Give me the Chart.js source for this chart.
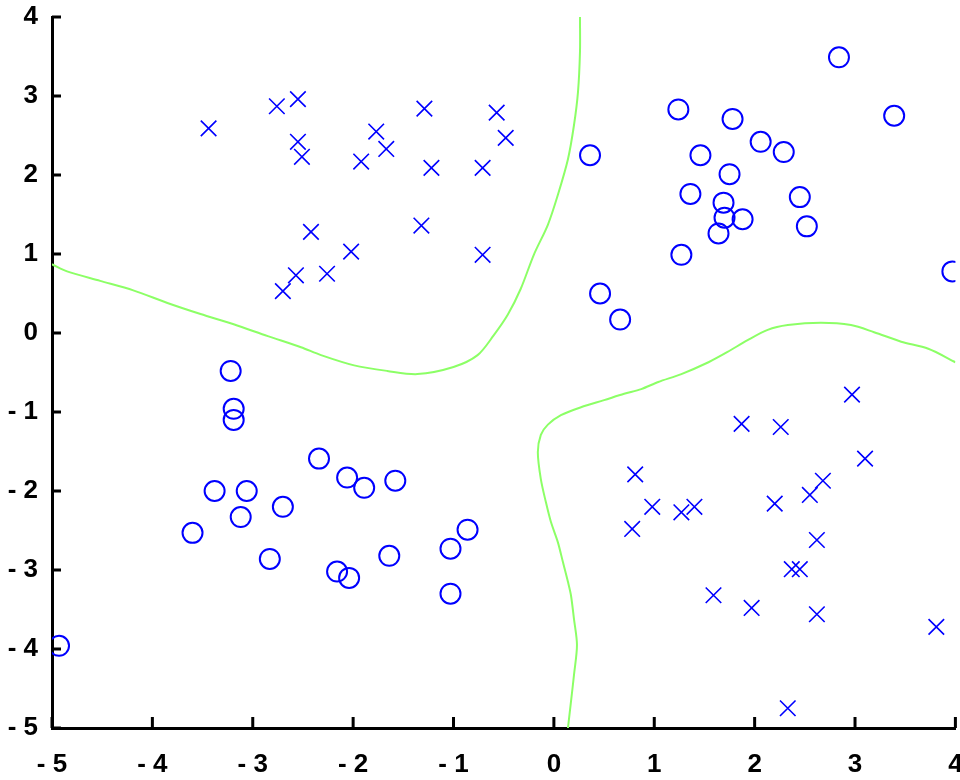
<!DOCTYPE html>
<html>
<head>
<meta charset="utf-8">
<script src="https://cdn.jsdelivr.net/npm/chart.js@4.4.0/dist/chart.umd.min.js"></script>
<style>
  html, body { margin: 0; padding: 0; background: #fff; overflow: hidden; }
  canvas { display: block; }
</style>
</head>
<body>
<!-- a little wider than the window: Chart.js keeps room for the marker size on the right -->
<canvas id="chart" width="968" height="780"></canvas>
<script>
// class "o" samples
const circleX = [0.36, 0.46, 0.66, 2.84, 1.24, 1.78, 3.39, 2.06, 2.29, 1.46,
                 1.75, 1.36, 2.45, 1.69, 1.88, 1.70, 1.64, 2.52, 1.27, 3.97,
                 -3.22, -3.19, -3.19, -2.34, -3.38, -3.06, -3.12, -2.70, -3.60, -2.83,
                 -4.93, -2.06, -1.89, -1.58, -0.86, -1.03, -1.64, -2.16, -2.04, -1.03];
const circleY = [2.25, 0.50, 0.17, 3.49, 2.83, 2.71, 2.75, 2.42, 2.29, 2.25,
                 2.01, 1.76, 1.72, 1.65, 1.44, 1.46, 1.26, 1.35, 0.99, 0.78,
                 -0.48, -0.96, -1.10, -1.59, -2.00, -2.00, -2.33, -2.20, -2.53, -2.86,
                 -3.96, -1.83, -1.96, -1.87, -2.49, -2.73, -2.82, -3.02, -3.10, -3.30];

// class "x" samples
const crossX = [-3.44, -2.76, -2.55, -2.55, -2.51, -2.42, -2.57, -2.70, -2.26, -1.29,
                -0.57, -0.48, -1.77, -1.67, -1.92, -1.22, -0.71, -1.32, -2.02, -0.71,
                2.97, 1.87, 2.26, 3.10, 2.68, 2.55, 0.81, 0.78, 0.98, 1.27,
                1.40, 2.20, 2.62, 2.37, 2.45, 1.59, 1.97, 2.62, 3.81, 2.33];
const crossY = [2.59, 2.87, 2.96, 2.42, 2.23, 1.28, 0.73, 0.53, 0.75, 2.84,
                2.79, 2.47, 2.55, 2.33, 2.17, 2.09, 2.09, 1.36, 1.03, 0.99,
                -0.78, -1.15, -1.19, -1.59, -1.87, -2.05, -1.79, -2.48, -2.20, -2.27,
                -2.20, -2.16, -2.62, -2.99, -2.99, -3.32, -3.48, -3.56, -3.72, -4.75];

// decision boundary, upper-left branch
const boundAX = [-5.0, -4.85, -4.52, -4.19, -3.85, -3.52, -3.19, -2.85, -2.52, -2.32,
                 -1.99, -1.66, -1.36, -1.00, -0.76, -0.60, -0.46, -0.33, -0.20, -0.06,
                 0.04, 0.14, 0.20, 0.24, 0.26, 0.26];
const boundAY = [0.87, 0.78, 0.66, 0.54, 0.38, 0.24, 0.11, -0.04, -0.18, -0.28,
                 -0.41, -0.48, -0.52, -0.43, -0.28, -0.03, 0.23, 0.56, 0.99, 1.37,
                 1.75, 2.20, 2.63, 3.05, 3.56, 4.0];

// decision boundary, lower-right branch
const boundBX = [0.14, 0.17, 0.20, 0.23, 0.20, 0.17, 0.14, 0.09, 0.04, -0.03,
                 -0.08, -0.13, -0.16, -0.13, -0.06, 0.07, 0.27, 0.50, 0.70, 0.87,
                 1.04, 1.27, 1.54, 1.73, 1.93, 2.13, 2.33, 2.66, 2.96, 3.19,
                 3.46, 3.73, 4.0];
const boundBY = [-5.0, -4.67, -4.33, -3.95, -3.62, -3.32, -3.15, -2.90, -2.65, -2.39,
                 -2.14, -1.85, -1.51, -1.29, -1.16, -1.04, -0.94, -0.85, -0.77, -0.71,
                 -0.62, -0.52, -0.37, -0.24, -0.09, 0.04, 0.10, 0.13, 0.10, 0.01,
                 -0.11, -0.20, -0.37];

const axisTicks = [-5, -4, -3, -2, -1, 0, 1, 2, 3, 4];

const toPts = (xs, ys) => xs.map((x, i) => ({x: x, y: ys[i]}));
const blue = '#0000ff';
const green = '#8cff66';

// tick marks pointing into the plot, like the original
const inwardTicks = {
    id: 'inwardTicks',
    afterDraw(chart) {
        const ctx = chart.ctx;
        const xs = chart.scales.x, ys = chart.scales.y;
        ctx.save();
        ctx.strokeStyle = '#000';
        ctx.lineWidth = 3;
        ctx.beginPath();
        xs.ticks.forEach((t, i) => {
            const px = xs.getPixelForTick(i);
            ctx.moveTo(px, xs.top);
            ctx.lineTo(px, xs.top - 11);
        });
        ys.ticks.forEach((t, i) => {
            const py = ys.getPixelForTick(i);
            ctx.moveTo(ys.right, py);
            ctx.lineTo(ys.right + 9, py);
        });
        ctx.stroke();
        ctx.restore();
    }
};

const tickFont = {family: 'Liberation Sans', size: 26, weight: 'bold'};
const fmt = v => v < 0 ? '- ' + Math.abs(v) : String(v);

// keep the plot box where the original has it
const noPad = s => {
    s.paddingLeft = 0; s.paddingRight = 0;
    s.paddingTop = 0; s.paddingBottom = 0;
};

new Chart(document.getElementById('chart').getContext('2d'), {
    type: 'scatter',
    data: {
        datasets: [{
            label: 'boundary A',
            data: toPts(boundAX, boundAY),
            showLine: true,
            borderColor: green,
            borderWidth: 2,
            pointRadius: 0,
            tension: 0.3,
            fill: false
        }, {
            label: 'boundary B',
            data: toPts(boundBX, boundBY),
            showLine: true,
            borderColor: green,
            borderWidth: 2,
            pointRadius: 0,
            tension: 0.3,
            fill: false
        }, {
            label: 'o',
            data: toPts(circleX, circleY),
            pointStyle: 'circle',
            pointRadius: 10,
            borderColor: blue,
            backgroundColor: 'rgba(0,0,0,0)',
            pointBorderWidth: 2
        }, {
            label: 'x',
            data: toPts(crossX, crossY),
            pointStyle: 'crossRot',
            pointRadius: 11,
            borderColor: blue,
            pointBorderWidth: 1.6
        }]
    },
    options: {
        responsive: false,
        animation: false,
        layout: {padding: {top: 17, right: 0, left: 0, bottom: 0}},
        plugins: {
            legend: {display: false},
            tooltip: {enabled: false}
        },
        scales: {
            x: {
                type: 'linear',
                min: -5,
                max: 4,
                afterBuildTicks: s => { s.ticks = axisTicks.map(v => ({value: v})); },
                afterFit: s => { s.height = 52; noPad(s); },
                grid: {display: false, drawTicks: false},
                border: {display: true, color: '#000', width: 3},
                ticks: {color: '#000', font: tickFont, padding: 21, callback: fmt, maxRotation: 0}
            },
            y: {
                type: 'linear',
                min: -5,
                max: 4,
                afterBuildTicks: s => { s.ticks = axisTicks.map(v => ({value: v})); },
                afterFit: s => { s.width = 52; noPad(s); },
                grid: {display: false, drawTicks: false},
                border: {display: true, color: '#000', width: 3},
                ticks: {color: '#000', font: tickFont, padding: 14, callback: fmt}
            }
        }
    },
    plugins: [inwardTicks]
});
</script>
</body>
</html>
